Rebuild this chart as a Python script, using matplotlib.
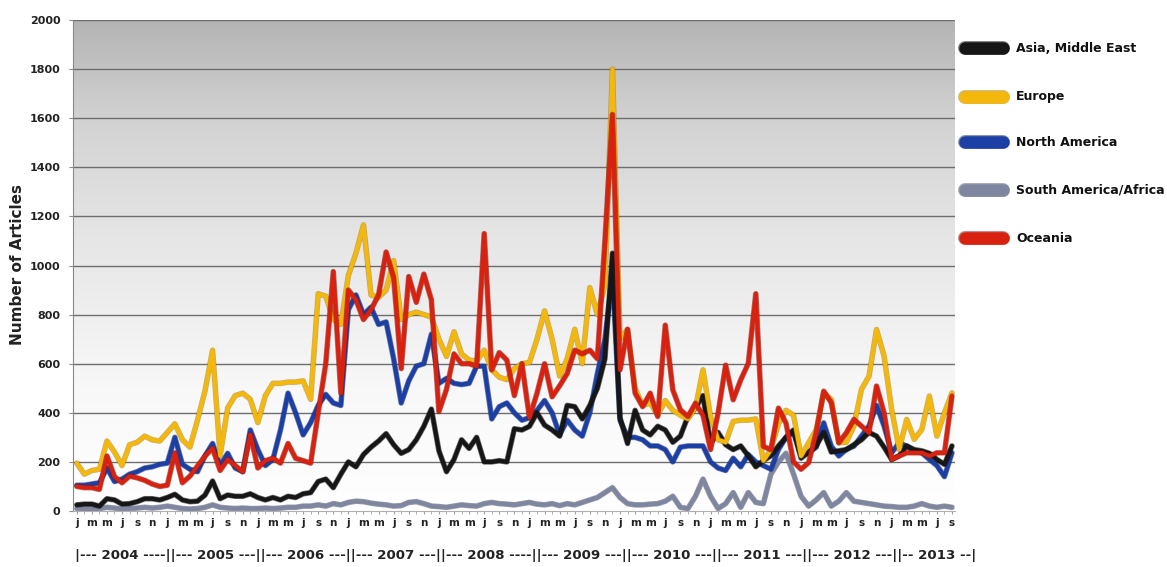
import matplotlib
matplotlib.use("Agg")
import matplotlib.pyplot as plt
import matplotlib.patheffects as pe
from matplotlib.lines import Line2D
from matplotlib.colors import LinearSegmentedColormap
import numpy as np

# ---------------- data (monthly, Jan 2004 .. Sep 2013) ----------------
months = list(range(117))
tick_letters = ["j", "m", "m", "j", "s", "n"] * 9 + ["j", "m", "m", "j", "s"]
year_line = ("|--- 2004 ----||--- 2005 ---||--- 2006 ---||--- 2007 ---||--- 2008 ----||"
             "--- 2009 ---||--- 2010 ---||--- 2011 ---||--- 2012 ---||-- 2013 --|")
series_names = ["Asia, Middle East", "Europe", "North America",
                "South America/Africa", "Oceania"]

asia = [25, 28, 28, 20, 50, 45, 28, 30, 38, 50, 50, 45,
        55, 68, 45, 38, 40, 65, 122, 50, 65, 60, 60, 70,
        55, 45, 55, 45, 60, 55, 70, 75, 120, 130, 95, 150,
        200, 180, 230, 260, 285, 315, 270, 235, 250, 290, 345, 415,
        245, 160, 210, 290, 255, 300, 200, 200, 205, 200, 335, 330,
        345, 400, 350, 330, 305, 430, 425, 375, 430, 500, 620, 1050,
        380, 275, 410, 330, 310, 345, 330, 280, 305, 385, 420, 470,
        275, 320, 270, 250, 265, 225, 180, 205, 225, 265, 300, 330,
        215, 240, 265, 320, 240, 245, 250, 270, 290, 320, 305, 260,
        210, 225, 265, 250, 245, 235, 210, 190, 265]

europe = [195, 150, 165, 170, 285, 240, 185, 270, 280, 305, 290, 285,
          320, 355, 290, 260, 370, 490, 655, 225, 420, 470, 480, 455,
          360, 470, 520, 520, 525, 525, 530, 455, 885, 875, 780, 760,
          960, 1050, 1165, 880, 870, 900, 1020, 780, 800, 810, 800, 790,
          700, 630, 730, 640, 615, 610, 655, 575, 545, 535, 580, 600,
          605, 700, 815, 700, 550, 620, 740, 600, 910, 800, 920, 1800,
          700, 740, 500, 430, 440, 390, 450, 410, 390, 375, 420, 575,
          385, 290, 280, 365, 370, 370, 375, 205, 250, 355, 410, 390,
          224, 278, 330, 481, 454, 278, 280, 346, 495, 549, 739, 631,
          414, 251, 373, 292, 332, 468, 305, 400, 481]

north_america = [105, 105, 110, 115, 175, 120, 130, 150, 160, 175, 180, 190,
                 195, 300, 190, 170, 160, 225, 275, 185, 235, 175, 160, 330,
                 250, 185, 210, 330, 480, 400, 310, 360, 430, 475, 440, 430,
                 820, 880, 800, 830, 760, 770, 620, 440, 530, 590, 600, 720,
                 520, 540, 520, 515, 520, 590, 590, 375, 425, 440, 400, 370,
                 380, 410, 450, 400, 310, 370, 330, 305, 400, 560, 700, 960,
                 370, 300, 300, 290, 265, 265, 250, 200, 260, 265, 265, 265,
                 200, 175, 165, 215, 180, 230, 200, 185, 170, 250, 300, 320,
                 224, 237, 260, 359, 264, 224, 251, 264, 305, 346, 430, 346,
                 237, 278, 264, 244, 237, 210, 185, 140, 237]

south_america_africa = [10, 8, 8, 10, 15, 12, 8, 10, 12, 15, 12, 15,
                        20, 15, 10, 8, 10, 15, 25, 15, 12, 10, 12, 10,
                        10, 12, 10, 12, 15, 15, 20, 20, 25, 20, 30, 25,
                        35, 40, 38, 32, 28, 25, 20, 22, 35, 38, 30, 20,
                        18, 15, 20, 25, 22, 20, 30, 35, 30, 28, 25, 30,
                        35, 28, 25, 30, 22, 30, 25, 35, 45, 55, 75, 95,
                        55, 30, 25, 25, 28, 30, 40, 60, 15, 10, 60, 130,
                        60, 10, 30, 75, 15, 75, 35, 30, 150, 200, 235, 150,
                        60, 20, 45, 75, 20, 40, 75, 40, 35, 30, 25, 20,
                        18, 15, 15, 20, 30, 20, 15, 20, 15]

oceania = [100, 95, 95, 88, 224, 140, 115, 142, 135, 125, 110, 100,
           105, 237, 115, 142, 183, 224, 255, 165, 210, 185, 160, 310,
           175, 205, 215, 195, 275, 215, 205, 195, 400, 600, 975, 480,
           900, 860, 780, 820, 880, 1055, 950, 580, 955, 850, 965, 860,
           405, 495, 640, 600, 600, 590, 1130, 575, 645, 615, 470, 600,
           380, 480, 600, 465, 510, 560, 655, 640, 655, 620, 1100, 1615,
           575, 740, 480, 425, 480, 385, 757, 493, 412, 385, 439, 390,
           250, 399, 594, 453, 534, 601, 885, 263, 250, 419, 358, 200,
           170, 197, 319, 488, 441, 278, 319, 373, 346, 319, 509, 400,
           210, 224, 237, 237, 237, 224, 237, 237, 468]

colors = {"Asia, Middle East": "#161616",
          "Europe": "#f4b80c",
          "North America": "#1c3fa6",
          "South America/Africa": "#7f86a0",
          "Oceania": "#d8210f"}
edges = {"Asia, Middle East": "#000000",
         "Europe": "#a07000",
         "North America": "#0a1f60",
         "South America/Africa": "#4c5068",
         "Oceania": "#7a0c04"}
values = {"Asia, Middle East": asia, "Europe": europe,
          "North America": north_america,
          "South America/Africa": south_america_africa,
          "Oceania": oceania}

# ---------------- figure ----------------
W, H = 1167, 567
fig = plt.figure(figsize=(W / 100, H / 100), dpi=100)
fig.patch.set_facecolor("white")

def fx(px):
    return px / W

def fy(py):
    return 1 - py / H

ax_l, ax_r, ax_t, ax_b = 73, 955, 20, 511
ax = fig.add_axes([fx(ax_l), fy(ax_b), fx(ax_r) - fx(ax_l), fy(ax_t) - fy(ax_b)])

x0, x1 = -0.5, 116.4
ax.set_xlim(x0, x1)
ax.set_ylim(0, 2000)

# gradient background
grad = np.linspace(0, 1, 256).reshape(-1, 1)
cmap = LinearSegmentedColormap.from_list(
    "bg", [(0.0, "#ffffff"), (0.25, "#f8f8f8"), (0.55, "#e6e6e6"),
           (0.8, "#d2d2d2"), (1.0, "#b4b4b4")])
ax.imshow(grad, aspect="auto", cmap=cmap, origin="lower",
          extent=[x0, x1, 0, 2000], zorder=0)

# grid
for v in range(200, 2001, 200):
    ax.axhline(v, color="#6e6e6e", lw=1.0, zorder=1)

order = ["South America/Africa", "North America", "Asia, Middle East",
         "Europe", "Oceania"]
for name in order:
    ax.plot(months, values[name], color=colors[name], lw=3.0, zorder=3,
            solid_joinstyle="round", solid_capstyle="round",
            path_effects=[pe.Stroke(linewidth=4.0, foreground=edges[name], alpha=0.55),
                          pe.Normal()])

# axes styling
for s in ["top", "right"]:
    ax.spines[s].set_visible(False)
ax.spines["left"].set_color("#8a8a8a")
ax.spines["bottom"].set_color("#b0b0b0")
ax.set_yticks(range(0, 2001, 200))
ax.set_yticklabels([str(v) for v in range(0, 2001, 200)],
                   fontsize=8, fontweight="bold", color="#222222")
ax.tick_params(axis="y", length=3, color="#8a8a8a", pad=6)
ax.set_xticks(months[::2])
ax.set_xticklabels(tick_letters, fontsize=7.5, fontweight="bold", color="#222222")
ax.set_xticks(months, minor=True)
ax.tick_params(axis="x", which="both", length=2, color="#a0a0a0", pad=3)

fig.text(fx(18), fy(265), "Number of Articles", rotation=90, ha="center",
         va="center", fontsize=11, fontweight="bold", color="#222222")

# year line, scaled to span the axis
yt = fig.text(fx(75), fy(555), year_line, ha="left", va="center",
              fontsize=9, fontweight="bold", color="#222222")
fig.canvas.draw()
bb = yt.get_window_extent()
target = 970 - 75
yt.set_fontsize(9 * target / bb.width)

# legend
ys = [48, 97, 142, 190, 238]
for name, yy in zip(series_names, ys):
    fig.add_artist(Line2D([fx(965), fx(1003)], [fy(yy), fy(yy)],
                          transform=fig.transFigure, color=colors[name], lw=9,
                          solid_capstyle="round",
                          path_effects=[pe.Stroke(linewidth=10, foreground=edges[name], alpha=0.5),
                                        pe.Normal()]))
    fig.text(fx(1016), fy(yy), name, ha="left", va="center", fontsize=9,
             fontweight="bold", color="#111111")

fig.savefig("out.png", dpi=100)
